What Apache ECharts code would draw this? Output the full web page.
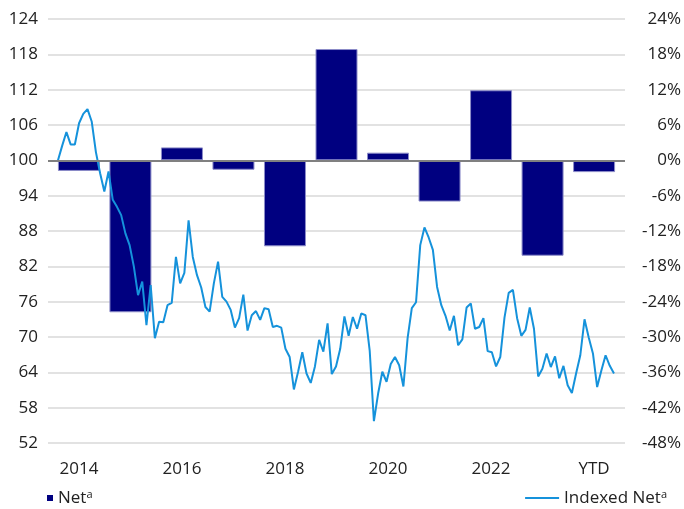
<!DOCTYPE html>
<html>
<head>
<meta charset="utf-8">
<script src="https://cdn.jsdelivr.net/npm/echarts@6/dist/echarts.min.js"></script>
<style>
  html, body { margin: 0; padding: 0; background: #fff; }
  #chart { width: 684px; height: 509px; }
</style>
</head>
<body>
<div id="chart"></div>
<script>
// 年度柱（右轴，%）
const years = ['2014', '2015', '2016', '2017', '2018', '2019', '2020', '2021', '2022', '2023', 'YTD'];
const netPct = [-1.8, -25.8, 2.2, -1.6, -14.6, 18.9, 1.3, -7.0, 11.9, -16.2, -2.0];

// 月度指数线（左轴）
const indexedNet = [
  100, 102.5, 104.8, 102.7, 102.7, 106.3, 107.9, 108.7, 106.6, 101.4,
  97.8, 94.7, 98.1, 93.3, 92.1, 90.7, 87.6, 85.6, 82.0, 77.1,
  79.4, 72.0, 78.8, 69.8, 72.6, 72.5, 75.4, 75.8, 83.6, 79.1,
  80.9, 89.8, 83.6, 80.5, 78.4, 75.1, 74.3, 79.1, 82.8, 76.8,
  76.0, 74.6, 71.6, 73.2, 77.2, 71.1, 73.7, 74.4, 72.9, 74.9,
  74.7, 71.7, 71.9, 71.6, 68.0, 66.6, 61.1, 64.1, 67.4, 63.8,
  62.2, 65.0, 69.5, 67.5, 72.3, 63.7, 65.0, 68.0, 73.5, 70.2,
  73.4, 71.4, 74.0, 73.7, 67.7, 55.7, 60.4, 64.1, 62.4, 65.4,
  66.6, 65.2, 61.6, 69.8, 74.9, 75.9, 85.6, 88.6, 86.9, 84.8,
  78.5, 75.4, 73.6, 71.1, 73.6, 68.6, 69.6, 75.0, 75.7, 71.4,
  71.7, 73.2, 67.6, 67.4, 65.0, 66.6, 73.3, 77.5, 78.0, 73.2,
  70.2, 71.2, 75.0, 71.4, 63.3, 64.6, 67.2, 64.9, 66.7, 63.0,
  65.1, 61.8, 60.5, 63.8, 66.9, 73.0, 69.9, 67.2, 61.5, 64.3,
  66.9, 65.1, 63.8
];

// 刻度
const leftTicks = [52, 58, 64, 70, 76, 82, 88, 94, 100, 106, 112, 118, 124];
const xLabelIdx = [0, 2, 4, 6, 8, 10];

const FONT = '"Open Sans", sans-serif';
const TXT = '#222';

const chart = echarts.init(document.getElementById('chart'));
const nLast = indexedNet.length - 1;
const pxPerStep = 556 / nLast;

const supRich = {
  n: { fontFamily: FONT, fontSize: 17, color: TXT },
  s: { fontFamily: FONT, fontSize: 11, color: TXT, padding: [0, 0, 7, 0] }
};

chart.setOption({
  animation: false,
  backgroundColor: '#fff',
  grid: { left: 48, right: 59, top: 19, bottom: 66 },
  legend: [
    {
      data: ['Net'],
      left: 42, top: 484,
      icon: 'rect', itemWidth: 6, itemHeight: 6, itemGap: 4,
      itemStyle: { borderWidth: 0 },
      formatter: n => '{n|' + n + '}{s|a}',
      textStyle: { rich: supRich }
    },
    {
      data: ['Indexed Net'],
      right: 12, top: 484,
      icon: 'rect', itemWidth: 34, itemHeight: 2, itemGap: 4,
      formatter: n => '{n|' + n + '}{s|a}',
      textStyle: { rich: supRich }
    }
  ],
  xAxis: [
    {
      type: 'value',
      min: -0.6, max: 10.6,
      axisLine: { show: false },
      axisTick: { show: false },
      splitLine: { show: false },
      axisLabel: {
        customValues: xLabelIdx,
        formatter: v => years[v],
        fontFamily: FONT, fontSize: 17, color: TXT, margin: 18
      }
    },
    {
      type: 'value',
      show: false,
      min: -10 / pxPerStep,
      max: nLast + 11 / pxPerStep
    }
  ],
  yAxis: [
    {
      type: 'value',
      position: 'left',
      min: 52, max: 124,
      axisLine: { show: false },
      axisTick: { show: false },
      splitLine: { show: false },
      axisLabel: {
        customValues: leftTicks,
        fontFamily: FONT, fontSize: 17, color: TXT, margin: 10
      }
    },
    {
      type: 'value',
      position: 'right',
      min: -48, max: 24, interval: 6,
      axisLine: { show: false },
      axisTick: { show: false },
      splitLine: { lineStyle: { color: '#d9d9d9', width: 1.5 } },
      axisLabel: {
        formatter: '{value}%', align: 'right',
        fontFamily: FONT, fontSize: 17, color: TXT, margin: 56
      }
    }
  ],
  series: [
    {
      name: 'Net',
      type: 'bar',
      xAxisIndex: 0,
      yAxisIndex: 1,
      barWidth: 42,
      data: netPct.map((v, i) => [i, v]),
      itemStyle: { color: '#000080', borderColor: '#8c8cc8', borderWidth: 1 },
      markLine: {
        silent: true,
        symbol: 'none',
        label: { show: false },
        lineStyle: { color: '#808080', width: 2, type: 'solid' },
        data: [{ yAxis: 0 }]
      }
    },
    {
      name: 'Indexed Net',
      type: 'line',
      xAxisIndex: 1,
      yAxisIndex: 0,
      showSymbol: false,
      data: indexedNet.map((v, i) => [i, v]),
      itemStyle: { color: '#1592db' },
      lineStyle: { color: '#1592db', width: 2 }
    }
  ]
});
</script>
</body>
</html>
